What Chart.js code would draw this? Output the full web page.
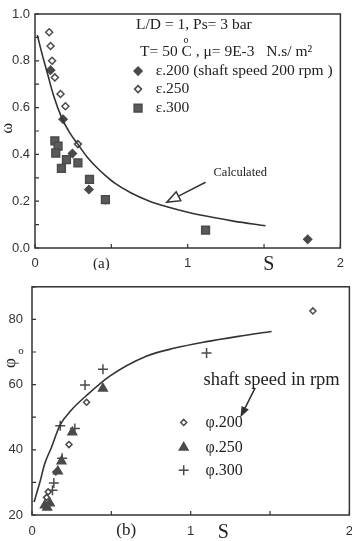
<!DOCTYPE html>
<html>
<head>
<meta charset="utf-8">
<script src="https://cdn.jsdelivr.net/npm/chart.js@4.4.0/dist/chart.umd.min.js"></script>
<style>
html, body { margin: 0; padding: 0; background: #fff; overflow: hidden; width: 352px; height: 541px; }
#grapheA { position: absolute; left: 0; top: 0; }
#grapheB { position: absolute; left: 0; top: 270px; }
</style>
</head>
<body>
<canvas id="grapheA" width="352" height="270"></canvas>
<canvas id="grapheB" width="362" height="271"></canvas>
<script>
// (a) eccentricity ratio vs Sommerfeld number S
var sCalcA = [0.015, 0.05, 0.08, 0.12, 0.176, 0.23, 0.28, 0.34, 0.40, 0.46, 0.52, 0.63, 0.75, 0.87, 1.0, 1.17, 1.3, 1.51]
var wCalcA = [0.91, 0.82, 0.75, 0.655, 0.555, 0.49, 0.444, 0.39, 0.347, 0.31, 0.278, 0.235, 0.2, 0.175, 0.153, 0.13, 0.115, 0.095]
var s200A = [0.102, 0.184, 0.245, 0.353, 1.786]
var w200A = [0.76, 0.55, 0.404, 0.25, 0.037]
var s250A = [0.093, 0.102, 0.112, 0.13, 0.167, 0.199, 0.281, 0.461]
var w250A = [0.922, 0.863, 0.80, 0.729, 0.658, 0.606, 0.444, 0.204]
var s300A = [0.13, 0.151, 0.136, 0.173, 0.206, 0.281, 0.357, 0.461, 1.117]
var w300A = [0.458, 0.435, 0.406, 0.34, 0.378, 0.364, 0.293, 0.207, 0.076]
var xTicksA = [0, 0.5, 1, 1.5, 2]
var yTicksA = [0, 0.1, 0.2, 0.3, 0.4, 0.5, 0.6, 0.7, 0.8, 0.9, 1.0]

// (b) attitude angle vs Sommerfeld number S
var sCalcB = [0.013, 0.05, 0.08, 0.123, 0.175, 0.25, 0.34, 0.49, 0.72, 0.9, 1.09, 1.3, 1.51]
var phiCalcB = [24, 30.1, 35.7, 40.8, 47.4, 52.3, 56.5, 62.6, 68.7, 71.2, 73.1, 74.8, 76.3]
var s200B = [0.092, 0.102, 0.15, 0.233, 0.344, 1.77]
var phi200B = [25.4, 27.1, 33.2, 41.6, 54.6, 82.6]
var s250B = [0.081, 0.096, 0.1125, 0.163, 0.186, 0.254, 0.447]
var phi250B = [23.0, 22.3, 23.6, 33.4, 36.5, 45.4, 58.8]
var s300B = [0.129, 0.1375, 0.19, 0.27, 0.178, 0.334, 0.447, 1.10]
var phi300B = [27.6, 29.8, 37.4, 46.5, 47.4, 59.9, 64.7, 69.7]
var xTicksB = [0, 0.5, 1, 1.5, 2]
var yTicksB = [20, 30, 40, 50, 60, 70, 80, 90]

var ink = '#333333'
var dark = '#4a4a4a'
var serif = '"Liberation Serif", "DejaVu Serif", serif'
var sans = '"Liberation Sans", Arial, sans-serif'

function pts(xs, ys) {
    return xs.map(function (x, i) { return { x: x, y: ys[i] } })
}

function courbe(xs, ys) {
    return {
        data: pts(xs, ys), showLine: true, pointRadius: 0,
        borderColor: ink, borderWidth: 1.6, cubicInterpolationMode: 'monotone'
    }
}

function nuage(xs, ys, style, r, fill) {
    return {
        data: pts(xs, ys), showLine: false, pointStyle: style, pointRadius: r,
        pointBackgroundColor: fill, pointBorderColor: dark, pointBorderWidth: 1.5
    }
}

function pos(chart, x, y) {
    return [chart.scales.x.getPixelForValue(x), chart.scales.y.getPixelForValue(y)]
}

function texte(ctx, str, p, font, align) {
    ctx.font = font
    ctx.textAlign = align || 'left'
    ctx.textBaseline = 'middle'
    ctx.fillText(str, p[0], p[1])
}

function marqueur(ctx, style, p, r, fill) {
    ctx.save()
    ctx.fillStyle = fill
    ctx.strokeStyle = dark
    ctx.lineWidth = 1.5
    Chart.helpers.drawPoint(ctx, { pointStyle: style, radius: r, borderWidth: 1.5, rotation: 0 }, p[0], p[1])
    ctx.restore()
}

function fleche(ctx, a, b, len, half, open) {
    var ang = Math.atan2(b[1] - a[1], b[0] - a[0])
    var bx = b[0] - len * Math.cos(ang), by = b[1] - len * Math.sin(ang)
    ctx.save()
    ctx.strokeStyle = ink
    ctx.fillStyle = open ? '#fff' : ink
    ctx.lineWidth = 1.5
    ctx.beginPath()
    ctx.moveTo(a[0], a[1])
    ctx.lineTo(bx, by)
    ctx.stroke()
    ctx.beginPath()
    ctx.moveTo(b[0], b[1])
    ctx.lineTo(bx + half * Math.sin(ang), by - half * Math.cos(ang))
    ctx.lineTo(bx - half * Math.sin(ang), by + half * Math.cos(ang))
    ctx.closePath()
    ctx.fill()
    ctx.stroke()
    ctx.restore()
}

// cadre + graduations vers l'intérieur
function cadre(xTicks, yTicks) {
    return {
        id: 'cadre',
        afterDatasetsDraw: function (chart) {
            var ctx = chart.ctx, a = chart.chartArea
            ctx.save()
            ctx.strokeStyle = ink
            ctx.lineWidth = 1.5
            ctx.strokeRect(a.left, a.top, a.right - a.left, a.bottom - a.top)
            ctx.lineWidth = 1.2
            ctx.beginPath()
            xTicks.forEach(function (v) {
                var px = chart.scales.x.getPixelForValue(v)
                ctx.moveTo(px, a.bottom)
                ctx.lineTo(px, a.bottom - 4)
            })
            yTicks.forEach(function (v) {
                var py = chart.scales.y.getPixelForValue(v)
                ctx.moveTo(a.left, py)
                ctx.lineTo(a.left + 4, py)
            })
            ctx.stroke()
            ctx.restore()
        }
    }
}

var annotA = {
    id: 'annotA',
    afterDraw: function (chart) {
        var ctx = chart.ctx
        var f = '15.5px ' + serif
        ctx.save()
        ctx.fillStyle = '#222'
        texte(ctx, 'L/D = 1, Ps= 3 bar', pos(chart, 0.662, 0.953), f)
        var p = pos(chart, 0.688, 0.837)
        ctx.font = f
        var w = ctx.measureText('T= 50 ').width
        texte(ctx, 'T= 50 C , \u03bc= 9E-3   N.s/ m\u00b2', p, f)
        texte(ctx, 'o', [p[0] + w + 2, p[1] - 12], '10px ' + serif)
        marqueur(ctx, 'rectRot', pos(chart, 0.675, 0.756), 4, dark)
        marqueur(ctx, 'rectRot', pos(chart, 0.675, 0.679), 3.5, '#fff')
        marqueur(ctx, 'rect', pos(chart, 0.675, 0.598), 5.5, '#5a5a5a')
        texte(ctx, '\u03b5.200 (shaft speed 200 rpm )', pos(chart, 0.79, 0.756), f)
        texte(ctx, '\u03b5.250', pos(chart, 0.79, 0.679), f)
        texte(ctx, '\u03b5.300', pos(chart, 0.79, 0.598), f)
        texte(ctx, 'Calculated', pos(chart, 1.344, 0.32), '12.5px ' + serif, 'center')
        fleche(ctx, pos(chart, 1.117, 0.281), pos(chart, 0.864, 0.196), 13, 5, true)
        texte(ctx, '(a)', pos(chart, 0.435, -0.07), '15px ' + serif, 'center')
        texte(ctx, 'S', pos(chart, 1.532, -0.07), '20px ' + serif, 'center')
        var q = pos(chart, -0.175, 0.512)
        ctx.translate(q[0], q[1])
        ctx.rotate(-Math.PI / 2)
        texte(ctx, '\u03c9', [0, 0], '16px ' + serif, 'center')
        ctx.restore()
    }
}

var annotB = {
    id: 'annotB',
    afterDraw: function (chart) {
        var ctx = chart.ctx
        ctx.save()
        ctx.fillStyle = '#222'
        texte(ctx, 'shaft speed in rpm', pos(chart, 1.081, 61.4), '18.5px ' + serif)
        fleche(ctx, pos(chart, 1.406, 59.0), pos(chart, 1.319, 50.5), 8, 3, false)
        marqueur(ctx, 'rectRot', pos(chart, 0.956, 48.4), 3, '#fff')
        marqueur(ctx, 'triangle', pos(chart, 0.956, 40.7), 5, dark)
        marqueur(ctx, 'cross', pos(chart, 0.956, 33.7), 5, dark)
        texte(ctx, '\u03c6.200', pos(chart, 1.094, 48.4), '16px ' + serif)
        texte(ctx, '\u03c6.250', pos(chart, 1.094, 40.7), '16px ' + serif)
        texte(ctx, '\u03c6.300', pos(chart, 1.094, 33.7), '16px ' + serif)
        texte(ctx, '(b)', pos(chart, 0.594, 15.1), '17px ' + serif, 'center')
        texte(ctx, 'S', pos(chart, 1.206, 14.5), '20px ' + serif, 'center')
        texte(ctx, 'o', pos(chart, -0.069, 70.3), '11px ' + serif, 'center')
        var q = pos(chart, -0.1375, 66.6)
        ctx.translate(q[0], q[1])
        ctx.rotate(-Math.PI / 2)
        texte(ctx, '\u03c6', [0, 0], '17px ' + serif, 'center')
        ctx.restore()
    }
}

function echelles(xmin, xmax, ymin, ymax, ystep, yfmt, ylw, xh, xpad, ypad) {
    return {
        x: {
            type: 'linear', min: xmin, max: xmax,
            grid: { display: false, drawTicks: false }, border: { display: false },
            ticks: { stepSize: 1, padding: xpad, color: ink, font: { family: sans, size: 13 },
                callback: function (v) { return String(v) } },
            afterFit: function (s) { s.height = xh }
        },
        y: {
            type: 'linear', min: ymin, max: ymax,
            grid: { display: false, drawTicks: false }, border: { display: false },
            ticks: { stepSize: ystep, padding: ypad, color: ink, font: { family: sans, size: 13 }, callback: yfmt },
            afterFit: function (s) { s.width = ylw }
        }
    }
}

var configA = {
    type: 'scatter',
    data: {
        datasets: [
            courbe(sCalcA, wCalcA),
            nuage(s300A, w300A, 'rect', 5.5, '#5a5a5a'),
            nuage(s200A, w200A, 'rectRot', 4, dark),
            nuage(s250A, w250A, 'rectRot', 3.5, '#fff')
        ]
    },
    options: {
        responsive: false, animation: false,
        layout: { padding: { top: 14, right: 9, left: 0, bottom: 0 } },
        plugins: { legend: { display: false }, tooltip: { enabled: false } },
        scales: echelles(0, 2, 0, 1, 0.2, function (v) { return v.toFixed(1) }, 35, 22, 8, 5)
    },
    plugins: [cadre(xTicksA, yTicksA), annotA]
}

var configB = {
    type: 'scatter',
    data: {
        datasets: [
            courbe(sCalcB, phiCalcB),
            nuage(s250B, phi250B, 'triangle', 5, dark),
            nuage(s200B, phi200B, 'rectRot', 3, '#fff'),
            nuage(s300B, phi300B, 'cross', 5, dark)
        ]
    },
    options: {
        responsive: false, animation: false,
        layout: { padding: { top: 14, right: 10, left: 0, bottom: 0 } },
        plugins: { legend: { display: false }, tooltip: { enabled: false } },
        scales: echelles(0, 2, 20, 90, 20, function (v) { return v % 20 === 0 ? String(v) : '' }, 32, 26, 9, 9)
    },
    plugins: [cadre(xTicksB, yTicksB), annotB]
}

/* Création des deux graphes */
var grapheA = new Chart(document.getElementById('grapheA').getContext('2d'), configA)
var grapheB = new Chart(document.getElementById('grapheB').getContext('2d'), configB)
</script>
</body>
</html>
